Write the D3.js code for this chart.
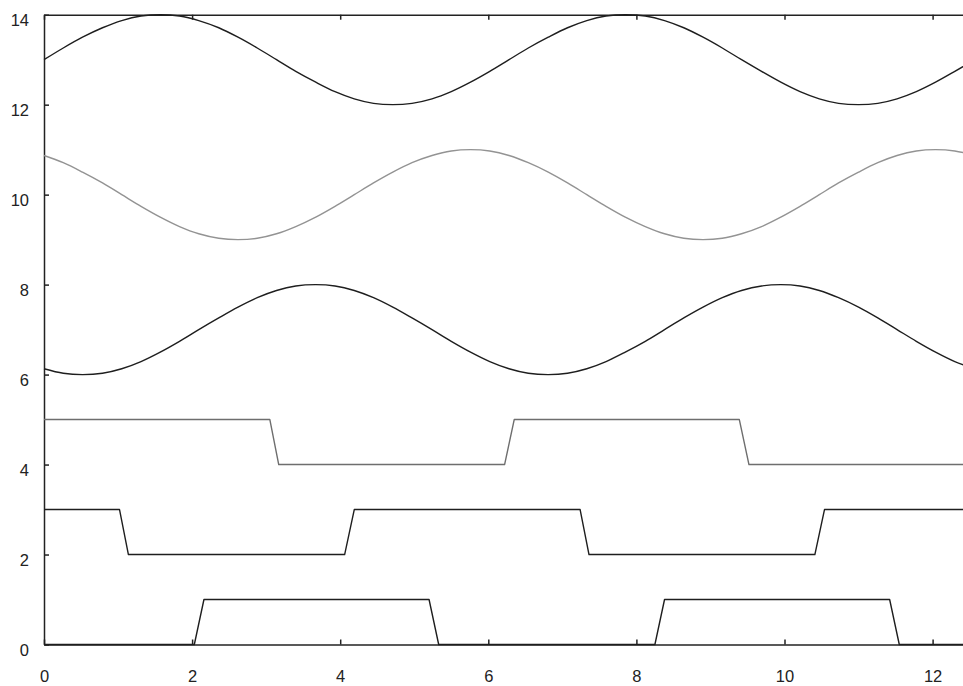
<!DOCTYPE html>
<html>
<head>
<meta charset="utf-8">
<script src="https://cdn.jsdelivr.net/npm/d3@7"></script>
<style>
  body { margin: 0; background: #fff; }
  svg { display: block; }
</style>
</head>
<body>
<svg width="963" height="686"></svg>
<script>
// sample positions for the three sine curves (15 degree steps over 0..4pi)
const xs = [0, 0.26, 0.52, 0.79, 1.05, 1.31, 1.57, 1.83, 2.09, 2.36, 2.62, 2.88,
  3.14, 3.40, 3.67, 3.93, 4.19, 4.45, 4.71, 4.97, 5.24, 5.50, 5.76, 6.02,
  6.28, 6.54, 6.81, 7.07, 7.33, 7.59, 7.85, 8.12, 8.38, 8.64, 8.90, 9.16,
  9.42, 9.69, 9.95, 10.21, 10.47, 10.73, 11.00, 11.26, 11.52, 11.78, 12.04, 12.30, 12.57];

const waveTop = [13, 13.26, 13.5, 13.71, 13.87, 13.97, 14, 13.97, 13.87, 13.71, 13.5, 13.26,
  13, 12.74, 12.5, 12.29, 12.13, 12.03, 12, 12.03, 12.13, 12.29, 12.5, 12.74,
  13, 13.26, 13.5, 13.71, 13.87, 13.97, 14, 13.97, 13.87, 13.71, 13.5, 13.26,
  13, 12.74, 12.5, 12.29, 12.13, 12.03, 12, 12.03, 12.13, 12.29, 12.5, 12.74, 13];

const waveMid = [10.87, 10.71, 10.5, 10.26, 10, 9.74, 9.5, 9.29, 9.13, 9.03, 9, 9.03,
  9.13, 9.29, 9.5, 9.74, 10, 10.26, 10.5, 10.71, 10.87, 10.97, 11, 10.97,
  10.87, 10.71, 10.5, 10.26, 10, 9.74, 9.5, 9.29, 9.13, 9.03, 9, 9.03,
  9.13, 9.29, 9.5, 9.74, 10, 10.26, 10.5, 10.71, 10.87, 10.97, 11, 10.97, 10.87];

const waveLow = [6.13, 6.03, 6, 6.03, 6.13, 6.29, 6.5, 6.74, 7, 7.26, 7.5, 7.71,
  7.87, 7.97, 8, 7.97, 7.87, 7.71, 7.5, 7.26, 7, 6.74, 6.5, 6.29,
  6.13, 6.03, 6, 6.03, 6.13, 6.29, 6.5, 6.74, 7, 7.26, 7.5, 7.71,
  7.87, 7.97, 8, 7.97, 7.87, 7.71, 7.5, 7.26, 7, 6.74, 6.5, 6.29, 6.13];

// square waves: corner points only
const pulseTopX = [0, 3.05, 3.17, 6.22, 6.35, 9.39, 9.52, 12.57];
const pulseTopY = [5, 5, 4, 4, 5, 5, 4, 4];
const pulseMidX = [0, 1.02, 1.14, 4.06, 4.19, 7.24, 7.36, 10.41, 10.54, 12.57];
const pulseMidY = [3, 3, 2, 2, 3, 3, 2, 2, 3, 3];
const pulseLowX = [0, 2.03, 2.16, 5.20, 5.33, 8.25, 8.38, 11.42, 11.55, 12.57];
const pulseLowY = [0, 0, 1, 1, 0, 0, 1, 1, 0, 0];

const xTicks = [0, 2, 4, 6, 8, 10, 12];
const yTicks = [0, 2, 4, 6, 8, 10, 12, 14];

const svg = d3.select("svg");

const x = d3.scaleLinear()
  .domain([0, 4 * Math.PI])
  .range([44, 44 + 74.05 * 4 * Math.PI]);

const y = d3.scaleLinear()
  .domain([0, 14])
  .range([644.5, 14.7]);

const series = [
  { xv: xs, yv: waveTop, color: "#1e1e1e", smooth: true },
  { xv: xs, yv: waveMid, color: "#939393", smooth: true },
  { xv: xs, yv: waveLow, color: "#1e1e1e", smooth: true },
  { xv: pulseTopX, yv: pulseTopY, color: "#6e6e6e", smooth: false },
  { xv: pulseMidX, yv: pulseMidY, color: "#1e1e1e", smooth: false },
  { xv: pulseLowX, yv: pulseLowY, color: "#1e1e1e", smooth: false }
];

const font = "'Liberation Sans', Arial, sans-serif";

// left axis, ticks pointing inwards
const yAxis = svg.append("g")
  .attr("transform", `translate(${x(0)},0)`)
  .call(d3.axisLeft(y).tickValues(yTicks).tickSize(-5).tickSizeOuter(0).tickPadding(15));

// bottom axis
const xAxis = svg.append("g")
  .attr("transform", `translate(0,${y(0)})`)
  .call(d3.axisBottom(x).tickValues(xTicks).tickSize(-5).tickSizeOuter(0).tickPadding(26));

// top border with small ticks
const topAxis = svg.append("g")
  .attr("transform", `translate(0,${y(14)})`)
  .call(d3.axisTop(x).tickValues(xTicks).tickSize(-5).tickSizeOuter(0).tickFormat(""));

[yAxis, xAxis, topAxis].forEach(g => {
  g.selectAll("path, line").attr("stroke", "#222").attr("stroke-width", 1.5);
  g.selectAll("text")
    .attr("fill", "#222")
    .style("font-family", font)
    .style("font-size", "16.5px");
});
yAxis.selectAll("text").attr("dy", "10.5px");

const line = d3.line()
  .x(d => x(d[0]))
  .y(d => y(d[1]));

svg.append("g")
  .selectAll("path")
  .data(series)
  .join("path")
  .attr("fill", "none")
  .attr("stroke", d => d.color)
  .attr("stroke-width", 1.4)
  .attr("stroke-linejoin", "round")
  .attr("d", d => line.curve(d.smooth ? d3.curveCatmullRom : d3.curveLinear)(d.xv.map((v, i) => [v, d.yv[i]])));
</script>
</body>
</html>
